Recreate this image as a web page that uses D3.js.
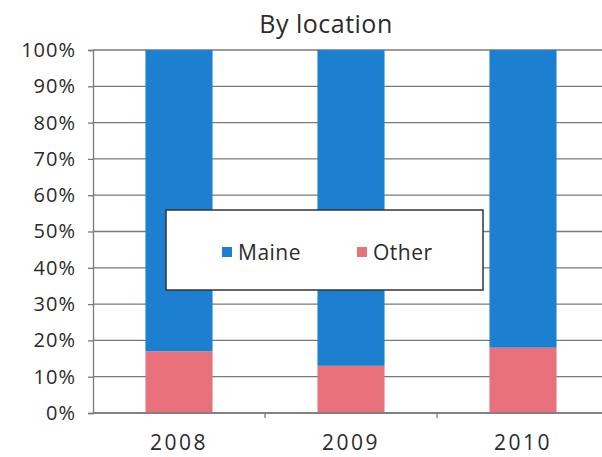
<!DOCTYPE html>
<html>
<head>
<meta charset="utf-8">
<script src="https://cdn.jsdelivr.net/npm/d3@7"></script>
<style>
  html, body { margin: 0; padding: 0; background: #fff; }
  svg { display: block; }
  text { font-family: "Open Sans", "Noto Sans", sans-serif; fill: #2b2b2b; }
</style>
</head>
<body>
<svg id="chart" width="602" height="457"></svg>
<script>
// Share of records by location, per year (percent)
const years = ["2008", "2009", "2010"];
const otherPct = [17, 13, 18];
const mainePct = [83, 87, 82];
const seriesNames = ["Maine", "Other"];
const seriesColors = ["#1c7fd0", "#e8717b"];
const yTicks = [0, 10, 20, 30, 40, 50, 60, 70, 80, 90, 100];

const svg = d3.select("#chart");
const margin = { left: 93, top: 50, bottom: 44 };
const step = 172;
const plotW = step * years.length;
const plotH = 457 - margin.top - margin.bottom;

const x = d3.scaleBand().domain(years).range([0, plotW]).paddingInner(0.61).paddingOuter(0.305);
const xTicksScale = d3.scaleBand().domain(years).range([0, plotW]);
const y = d3.scaleLinear().domain([0, 100]).range([plotH, 0]);

const g = svg.append("g").attr("transform", `translate(${margin.left},${margin.top})`);

// Title
svg.append("text")
  .attr("x", 326).attr("y", 33)
  .attr("text-anchor", "middle")
  .style("font-size", "25px")
  .style("letter-spacing", "0.5px")
  .text("By location");

// Horizontal gridlines
g.append("g").selectAll("line").data(yTicks).join("line")
  .attr("x1", 0).attr("x2", plotW)
  .attr("y1", d => y(d)).attr("y2", d => y(d))
  .attr("stroke", "#7a7a7a").attr("stroke-width", 1.3);

// Stacked bars: Other at the bottom, Maine above
const rows = years.map((yr, i) => ({ year: yr, Maine: mainePct[i], Other: otherPct[i] }));
const stack = d3.stack().keys(["Other", "Maine"])(rows);
const colorOf = { Maine: seriesColors[0], Other: seriesColors[1] };

g.append("g").selectAll("g").data(stack).join("g")
  .attr("fill", d => colorOf[d.key])
  .selectAll("rect").data(d => d).join("rect")
  .attr("x", d => x(d.data.year))
  .attr("width", x.bandwidth())
  .attr("y", d => y(d[1]))
  .attr("height", d => y(d[0]) - y(d[1]));

// Y axis
const yAxis = g.append("g")
  .call(d3.axisLeft(y).tickValues(yTicks).tickFormat(d => d + "%").tickSize(5).tickPadding(12));
yAxis.select(".domain").attr("stroke", "#7a7a7a").attr("stroke-width", 1.3);
yAxis.selectAll(".tick line").attr("stroke", "#7a7a7a").attr("stroke-width", 1.3);
yAxis.selectAll("text").style("font-size", "20px").style("letter-spacing", "1px")
  .attr("fill", "#2b2b2b")
  .style("font-family", "'Open Sans', 'Noto Sans', sans-serif");

// X axis with ticks between categories
const xAxis = g.append("g").attr("transform", `translate(0,${plotH})`);
xAxis.append("line").attr("x1", 0).attr("x2", plotW).attr("stroke", "#7a7a7a").attr("stroke-width", 1.3);
xAxis.selectAll("line.sep").data(years.slice(1)).join("line")
  .attr("class", "sep")
  .attr("x1", d => xTicksScale(d)).attr("x2", d => xTicksScale(d))
  .attr("y1", 0).attr("y2", 5)
  .attr("stroke", "#7a7a7a").attr("stroke-width", 1.3);
xAxis.selectAll("text").data(years).join("text")
  .attr("x", d => x(d) + x.bandwidth() / 2)
  .attr("y", 37)
  .attr("text-anchor", "middle")
  .style("font-size", "21px")
  .style("letter-spacing", "2.5px")
  .text(d => d);

// Legend
const legend = svg.append("g").attr("transform", "translate(166,210)");
legend.append("rect").attr("width", 317).attr("height", 80)
  .attr("fill", "#fff").attr("stroke", "#333").attr("stroke-width", 1.5);
const legendX = [56, 191];
seriesNames.forEach((name, i) => {
  const item = legend.append("g").attr("transform", `translate(${legendX[i]},37)`);
  item.append("rect").attr("width", 10).attr("height", 10).attr("fill", seriesColors[i]);
  item.append("text").attr("x", 16).attr("y", 13).style("font-size", "21px")
    .style("letter-spacing", "0.5px").text(name);
});
</script>
</body>
</html>
